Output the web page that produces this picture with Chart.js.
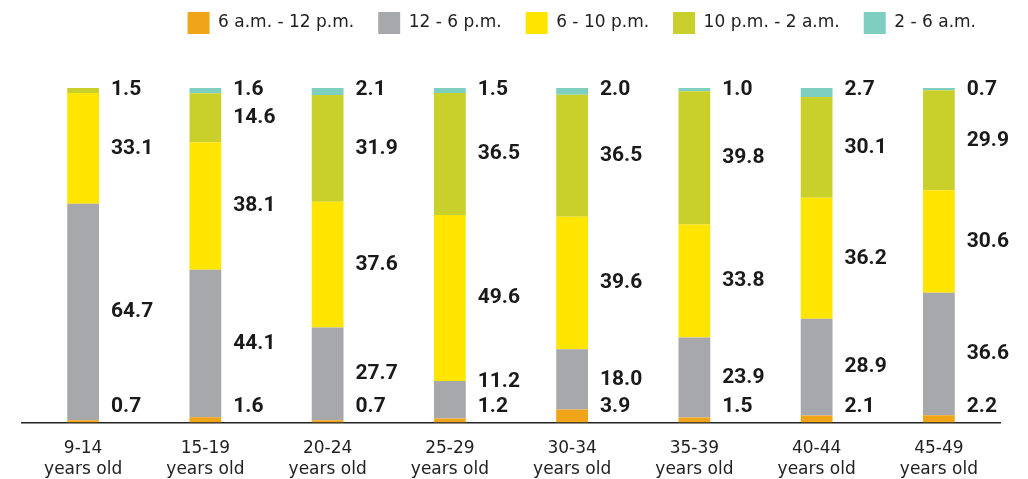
<!DOCTYPE html>
<html>
<head>
<meta charset="utf-8">
<script src="https://cdn.jsdelivr.net/npm/chart.js@4/dist/chart.umd.min.js"></script>
<style>
  html, body { margin: 0; padding: 0; background: #fff; }
  #wrap { width: 1028px; height: 479px; }
</style>
</head>
<body>
<div id="wrap"><canvas id="chart"></canvas></div>
<script>
// Share of viewing time by age group (percent per time slot)
const ageGroups = [
    ['9-14', 'years old'], ['15-19', 'years old'], ['20-24', 'years old'], ['25-29', 'years old'],
    ['30-34', 'years old'], ['35-39', 'years old'], ['40-44', 'years old'], ['45-49', 'years old']
];
const morning   = [0.7, 1.6, 0.7, 1.2, 3.9, 1.5, 2.1, 2.2];         // 6 a.m. - 12 p.m.
const afternoon = [64.7, 44.1, 27.7, 11.2, 18.0, 23.9, 28.9, 36.6]; // 12 - 6 p.m.
const evening   = [33.1, 38.1, 37.6, 49.6, 39.6, 33.8, 36.2, 30.6]; // 6 - 10 p.m.
const night     = [1.5, 14.6, 31.9, 36.5, 36.5, 39.8, 30.1, 29.9];  // 10 p.m. - 2 a.m.
const lateNight = [0, 1.6, 2.1, 1.5, 2.0, 1.0, 2.7, 0.7];           // 2 - 6 a.m. (none shown for 9-14)

const seriesNames = ['6 a.m. - 12 p.m.', '12 - 6 p.m.', '6 - 10 p.m.', '10 p.m. - 2 a.m.', '2 - 6 a.m.'];
const seriesColors = ['#F0A519', '#A7A8AB', '#FFE500', '#C9D02B', '#7FCFC1'];

const TEXT_FONT = "'DejaVu Sans', sans-serif";
const VALUE_FONT = "Roboto, 'Liberation Sans', sans-serif";

// draws the value labels to the right of each bar
const valueLabels = {
    id: 'valueLabels',
    afterDatasetsDraw(chart) {
        const ctx = chart.ctx;
        ctx.save();
        ctx.font = 'bold 21px ' + VALUE_FONT;
        ctx.fillStyle = '#1a1a1a';
        ctx.textAlign = 'left';
        ctx.textBaseline = 'middle';
        const n = chart.data.labels.length;
        const last = chart.data.datasets.length - 1;
        for (let i = 0; i < n; i++) {
            let topDs = last;
            while (topDs > 0 && !chart.data.datasets[topDs].data[i]) topDs--;
            let prevY = Infinity;
            chart.data.datasets.forEach((ds, d) => {
                const v = ds.data[i];
                if (!v) return;
                const bar = chart.getDatasetMeta(d).data[i];
                const x = bar.x + bar.width / 2 + 12;
                let y;
                if (d === 0) y = bar.base - 16;
                else if (d === topDs) y = Math.min(bar.y, bar.base) + 2;
                else y = Math.min((bar.y + bar.base) / 2, prevY - 25);
                prevY = y;
                ctx.fillText(v.toFixed(1), x, y);
            });
        }
        ctx.restore();
    }
};

const data = [morning, afternoon, evening, night, lateNight];

new Chart(document.getElementById('chart'), {
    type: 'bar',
    data: {
        labels: ageGroups,
        datasets: seriesNames.map((name, i) => ({
            label: name,
            data: data[i],
            backgroundColor: seriesColors[i],
            borderWidth: 0,
            borderSkipped: false,
            barPercentage: 0.26,
            categoryPercentage: 1
        }))
    },
    options: {
        responsive: true,
        maintainAspectRatio: false,
        animation: false,
        layout: { padding: { left: 22, right: 28, top: -12, bottom: -16 } },
        plugins: {
            legend: {
                position: 'top',
                align: 'end',
                labels: {
                    boxWidth: 22,
                    boxHeight: 22,
                    padding: 24,
                    color: '#222',
                    font: { family: TEXT_FONT, size: 17 }
                }
            },
            tooltip: { enabled: false }
        },
        scales: {
            x: {
                stacked: true,
                grid: { display: false, drawTicks: false },
                border: { display: true, color: '#222', width: 1.5 },
                ticks: {
                    color: '#222',
                    padding: 15,
                    font: { family: TEXT_FONT, size: 17, lineHeight: 1.25 }
                }
            },
            y: {
                stacked: true,
                display: false,
                min: 0,
                max: 100
            }
        }
    },
    plugins: [valueLabels, {
        id: 'legendGap',
        beforeInit(chart) {
            const fit = chart.legend.fit;
            chart.legend.fit = function () {
                fit.bind(chart.legend)();
                this.height += 44;
            };
        }
    }]
});
</script>
</body>
</html>
